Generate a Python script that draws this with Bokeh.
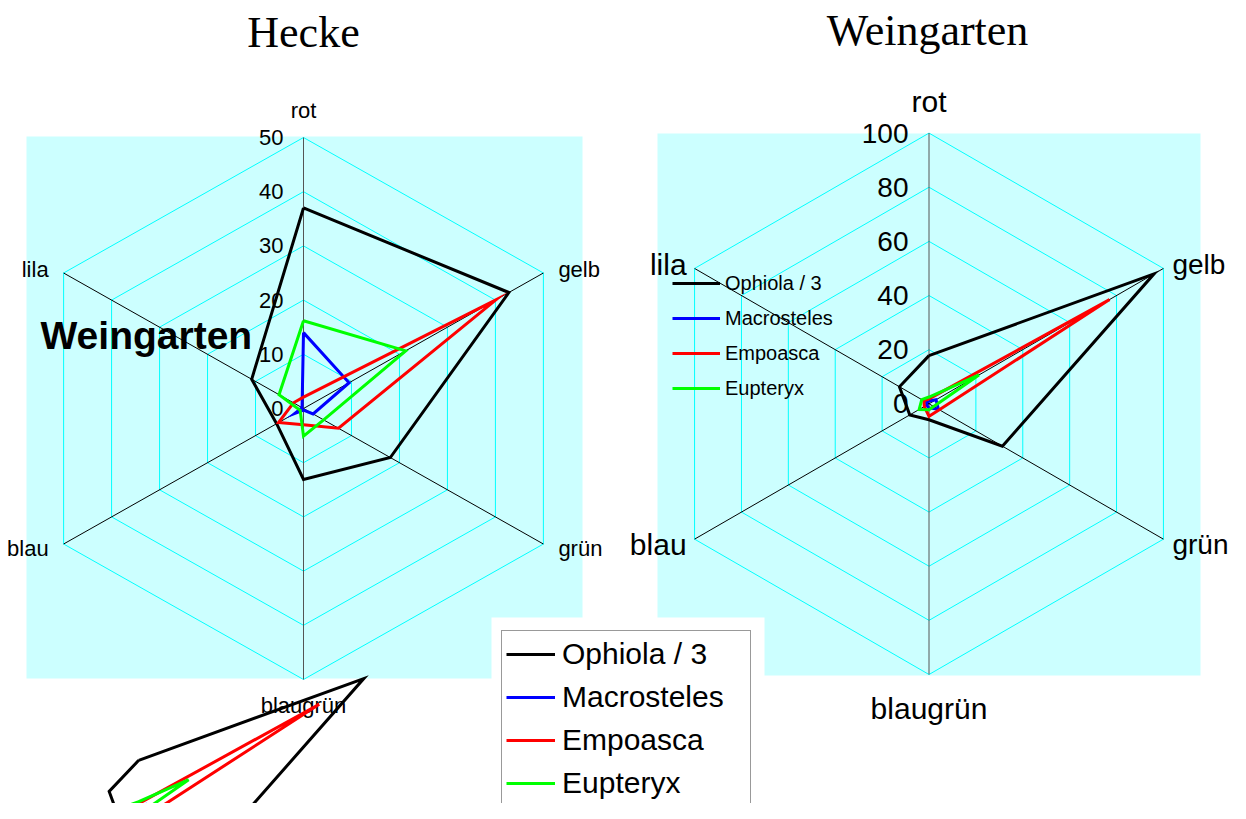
import numpy as np
from bokeh.plotting import figure
from bokeh.models import Range1d, Legend, LegendItem
from bokeh.core.properties import value
from bokeh.embed import file_html
from bokeh.resources import INLINE

# ---------------- data ----------------
categories = ["rot", "gelb", "grün", "blaugrün", "blau", "lila"]
series_names = ["Ophiola / 3", "Macrosteles", "Empoasca", "Eupteryx"]
series_colors = ["#000000", "#0000FF", "#FF0000", "#00FF00"]

hecke_ophiola = [37.0, 42.8, 18.1, 13.1, 5.6, 10.8]
hecke_macrosteles = [14.0, 9.5, 2.0, 0.3, 1.8, 0.3]
hecke_empoasca = [2.1, 40.1, 7.3, 3.0, 5.2, 2.1]
hecke_eupteryx = [16.2, 21.3, 4.2, 5.1, 0.7, 5.1]

weingarten_ophiola = [17.8, 96.0, 31.3, 5.9, 8.2, 12.6]
weingarten_macrosteles = [1.0, 3.0, 4.0, 1.5, 1.0, 1.0]
weingarten_empoasca = [1.8, 77.0, 4.4, 4.6, 2.0, 2.2]
weingarten_eupteryx = [2.5, 21.3, 2.0, 2.2, 4.2, 3.1]

hecke_ticks = [0, 10, 20, 30, 40, 50]
weingarten_ticks = [0, 20, 40, 60, 80, 100]

title_left = "Hecke"
title_right = "Weingarten"
overlay_text = "Weingarten"

hecke_series = [hecke_ophiola, hecke_macrosteles, hecke_empoasca, hecke_eupteryx]
weingarten_series = [weingarten_ophiola, weingarten_macrosteles,
                     weingarten_empoasca, weingarten_eupteryx]

# ---------------- layout (screen pixels) ----------------
W, H = 1230, 803
LEFT = dict(cx=303.0, cy=408.0, rx=277.0, ry=271.0, vmax=50.0)
RIGHT = dict(cx=928.5, cy=403.3, rx=270.7, ry=270.7, vmax=100.0)
GHOST = dict(cx=138.2, cy=808.0, rx=270.7, ry=270.7, vmax=100.0)

CYAN_BG = "#CCFFFF"
GRID = "#00FFFF"
SANS = "Liberation Sans"
SERIF = "Liberation Serif"

p = figure(width=W, height=H, x_range=Range1d(0, W), y_range=Range1d(H, 0),
           output_backend="svg", toolbar_location=None, min_border=0,
           x_axis_type=None, y_axis_type=None)
p.grid.visible = False
p.outline_line_color = None
p.background_fill_color = "white"
p.border_fill_color = "white"

ang = np.deg2rad(90 - 60 * np.arange(len(categories)))


def to_xy(vals, c, close=True):
    r = np.asarray(vals, dtype=float) / c["vmax"]
    x = c["cx"] + c["rx"] * r * np.cos(ang)
    y = c["cy"] - c["ry"] * r * np.sin(ang)
    x, y = list(x), list(y)
    if close:
        x.append(x[0]); y.append(y[0])
    return x, y


# backgrounds
p.quad(left=[26], right=[582], top=[136], bottom=[678], fill_color=CYAN_BG, line_color=None)
p.quad(left=[657], right=[1200], top=[133], bottom=[675], fill_color=CYAN_BG, line_color=None)
# white area behind the shared legend
p.quad(left=[491], right=[764], top=[617], bottom=[830], fill_color="white", line_color=None)


def draw_frame(c, ticks, label_sizes, tick_size, tick_x, offsets):
    xs, ys = [], []
    for t in ticks[1:]:
        x, y = to_xy([t] * len(categories), c)
        xs.append(x); ys.append(y)
    p.multi_line(xs, ys, line_color=GRID, line_width=1)
    ox, oy = to_xy([c["vmax"]] * len(categories), c, close=False)
    for i in range(len(categories)):
        col = "#555555" if i in (0, 3) else "#000000"
        p.segment(x0=[c["cx"]], y0=[c["cy"]], x1=[ox[i]], y1=[oy[i]],
                  line_color=col, line_width=1)
    # tick labels
    ty = [c["cy"] - c["ry"] * t / c["vmax"] for t in ticks]
    p.text(x=[tick_x] * len(ticks), y=ty, text=[str(t) for t in ticks],
           text_align="right", text_baseline="middle",
           text_font=value(SANS), text_font_size=tick_size, text_color="black")
    # category labels
    for i, cat in enumerate(categories):
        dx, dy, al = offsets[i]
        p.text(x=[ox[i] + dx], y=[oy[i] + dy], text=[cat], text_align=al,
               text_baseline="middle", text_font=value(SANS),
               text_font_size=label_sizes[i], text_color="black")


left_offsets = [(0, -27, "center"), (15, -4, "left"), (15, 4, "left"),
                (0, 26, "center"), (-15, 4, "right"), (-15, -4, "right")]
right_offsets = [(0, -32, "center"), (9, -4, "left"), (9, 5, "left"),
                 (0, 34, "center"), (-8, 5, "right"), (-8, -4, "right")]

draw_frame(LEFT, hecke_ticks, ["22px"] * 6, "22px", 283, left_offsets)
draw_frame(RIGHT, weingarten_ticks, ["30px", "28px", "28px", "30px", "30px", "30px"],
           "28px", 908, right_offsets)

# series
left_renderers, right_renderers = [], []
for vals, col in zip(hecke_series, series_colors):
    x, y = to_xy(vals, LEFT)
    left_renderers.append(p.line(x, y, line_color=col, line_width=3, line_join="miter"))
for vals, col in zip(weingarten_series, series_colors):
    x, y = to_xy(vals, RIGHT)
    right_renderers.append(p.line(x, y, line_color=col, line_width=3, line_join="miter"))
# displaced copy of the Weingarten series (as seen at the bottom left)
for vals, col in zip(weingarten_series, series_colors):
    x, y = to_xy(vals, GHOST)
    p.line(x, y, line_color=col, line_width=3, line_join="miter")

# titles
p.text(x=[303], y=[32], text=[title_left], text_align="center", text_baseline="middle",
       text_font=value(SERIF), text_font_size="44px", text_color="black")
p.text(x=[927], y=[30], text=[title_right], text_align="center", text_baseline="middle",
       text_font=value(SERIF), text_font_size="44px", text_color="black")
# bold overlay text
p.text(x=[40], y=[335], text=[overlay_text], text_align="left", text_baseline="alphabetic",
       text_font=value(SANS), text_font_size="39px", text_font_style="bold", text_color="black")

# shared legend (bottom middle)
main_legend = Legend(
    items=[LegendItem(label=n, renderers=[r]) for n, r in zip(series_names, left_renderers)],
    location=(501, -4), margin=0, padding=4, spacing=5,
    glyph_width=49, glyph_height=38, label_height=38, label_width=184, label_standoff=7,
    label_text_font=SANS, label_text_font_size="30px", label_text_baseline="middle",
    label_text_color="black",
    border_line_color="#333333", border_line_width=1,
    background_fill_color="white", background_fill_alpha=1.0,
)
p.add_layout(main_legend)

# legend inside the Weingarten chart
inner_legend = Legend(
    items=[LegendItem(label=n, renderers=[r]) for n, r in zip(series_names, right_renderers)],
    location=(672, 400), margin=0, padding=0, spacing=5,
    glyph_width=48, glyph_height=30, label_height=30, label_standoff=5,
    label_text_font=SANS, label_text_font_size="20px", label_text_baseline="middle",
    label_text_color="black",
    border_line_alpha=0.0, background_fill_alpha=0.0,
)
p.add_layout(inner_legend)

open("out.html", "w").write(file_html(p, INLINE))
